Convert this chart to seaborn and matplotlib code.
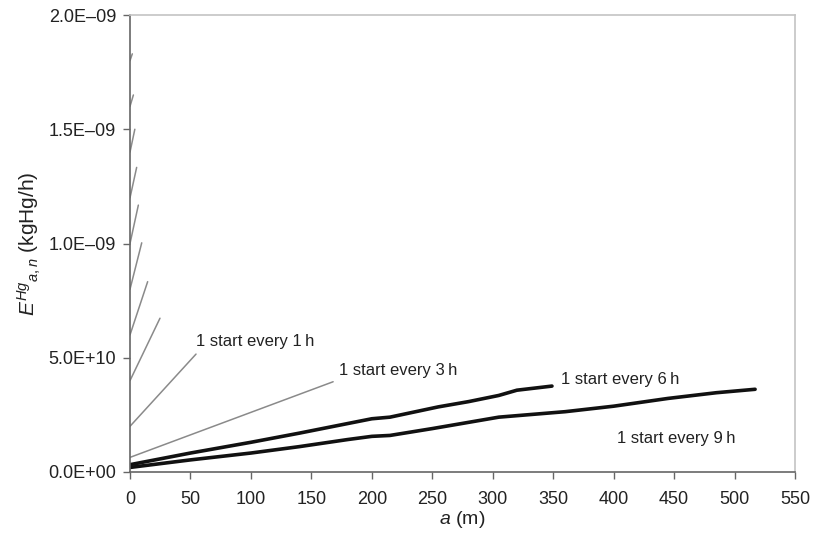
import matplotlib
matplotlib.use("Agg")
import matplotlib.pyplot as plt
from matplotlib.ticker import FixedLocator, FixedFormatter
import seaborn as sns
import pandas as pd

sns.set_theme(style="white")
plt.rcParams["font.family"] = ["Liberation Sans", "DejaVu Sans"]
plt.rcParams["mathtext.fontset"] = "custom"
plt.rcParams["mathtext.it"] = "Liberation Sans:italic"
plt.rcParams["mathtext.rm"] = "Liberation Sans"

# Emission units used in the arrays below: 1e-9 kgHg/h
UNIT = 1e-9

# "1 start every 1 h": one short segment per overlapping start
saw_start = [0.20, 0.40, 0.60, 0.80, 1.00, 1.20, 1.40, 1.60, 1.80]
saw_end_a = [54.6, 24.8, 14.6, 9.7, 6.9, 5.5, 4.0, 2.8, 1.9]
saw_end_e = [0.516, 0.673, 0.833, 1.003, 1.168, 1.333, 1.50, 1.65, 1.83]

# "1 start every 3 h"
a_3h = [0, 168]
e_3h = [0.064, 0.395]

# "1 start every 6 h"
a_6h = [0, 50, 100, 140, 180, 200, 215, 255, 280, 305, 320, 349]
e_6h = [0.032, 0.083, 0.130, 0.170, 0.212, 0.233, 0.240, 0.285, 0.308, 0.335, 0.358, 0.376]

# "1 start every 9 h"
a_9h = [0, 50, 100, 140, 180, 200, 215, 250, 305, 360, 400, 445, 485, 517]
e_9h = [0.020, 0.053, 0.083, 0.111, 0.142, 0.156, 0.160, 0.190, 0.240, 0.264, 0.288, 0.322, 0.347, 0.362]

labels = ["1 start every 1\u2009h", "1 start every 3\u2009h", "1 start every 6\u2009h", "1 start every 9\u2009h"]
label_a = [54.6, 173, 356.5, 403]
label_e = [0.569, 0.446, 0.406, 0.147]

x_ticks = list(range(0, 551, 50))
y_ticks = [0.0, 0.5, 1.0, 1.5, 2.0]
y_tick_labels = ["0.0E+00", "5.0E+10", "1.0E\u201309", "1.5E\u201309", "2.0E\u201309"]

rows = []
for i, (s, ea, ee) in enumerate(zip(saw_start, saw_end_a, saw_end_e)):
    rows.append({"a": 0.0, "E": s * UNIT, "seg": i})
    rows.append({"a": ea, "E": ee * UNIT, "seg": i})
saw = pd.DataFrame(rows)
df3 = pd.DataFrame({"a": a_3h, "E": [v * UNIT for v in e_3h]})
df6 = pd.DataFrame({"a": a_6h, "E": [v * UNIT for v in e_6h]})
df9 = pd.DataFrame({"a": a_9h, "E": [v * UNIT for v in e_9h]})

fig = plt.figure(figsize=(8.13, 5.33), dpi=100)
ax = fig.add_axes([130 / 813, 61 / 533, 665 / 813, 457 / 533])

sns.lineplot(data=saw, x="a", y="E", units="seg", estimator=None,
             color="#8a8a8a", linewidth=1.1, ax=ax, legend=False)
sns.lineplot(data=df3, x="a", y="E", color="#8a8a8a", linewidth=1.1, ax=ax, sort=False)
sns.lineplot(data=df6, x="a", y="E", color="#111111", linewidth=2.6, ax=ax, sort=False)
sns.lineplot(data=df9, x="a", y="E", color="#111111", linewidth=2.6, ax=ax, sort=False)

for txt, la, le in zip(labels, label_a, label_e):
    ax.text(la, le * UNIT, txt, fontsize=12, color="#222222", ha="left", va="center")

ax.set_xlim(0, 550)
ax.set_ylim(0, 2.0 * UNIT)
ax.xaxis.set_major_locator(FixedLocator(x_ticks))
ax.set_xticklabels([str(t) for t in x_ticks])
ax.yaxis.set_major_locator(FixedLocator([v * UNIT for v in y_ticks]))
ax.yaxis.set_major_formatter(FixedFormatter(y_tick_labels))
ax.yaxis.get_offset_text().set_visible(False)

ax.tick_params(axis="both", which="major", direction="out", length=5, width=1,
               color="#666666", labelsize=13, labelcolor="#222222",
               bottom=True, left=True)
ax.tick_params(axis="x", pad=8.5)
ax.tick_params(axis="y", pad=5)

for side in ["left", "bottom"]:
    ax.spines[side].set_color("#666666")
    ax.spines[side].set_linewidth(1.2)
for side in ["top", "right"]:
    ax.spines[side].set_color("#c4c4c4")
    ax.spines[side].set_linewidth(1.2)

ax.set_xlabel(r"$a$ (m)", fontsize=14, color="#222222", labelpad=1)
ax.set_ylabel(r"$E^{Hg}{}_{a,n}$ (kgHg/h)", fontsize=15, color="#222222", labelpad=4)
ax.grid(False)

fig.savefig("out.png", dpi=100, facecolor="white")
